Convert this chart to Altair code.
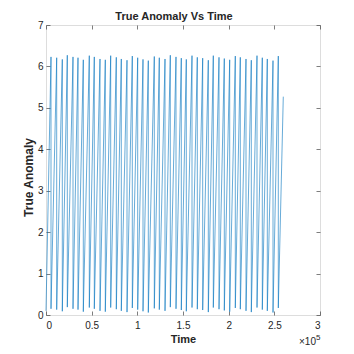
import altair as alt
import pandas as pd

# Peak (wrap-around) times of the true anomaly, in seconds
peak_t = [5475, 11715, 17847, 23321, 29562, 35037, 40840, 47409, 52884, 59125,
          64928, 70840, 76972, 82447, 88688, 94491, 100403, 106206, 112009, 118579,
          124053, 130294, 136097, 142337, 148140, 153615, 159855, 165659, 171571, 177702,
          183177, 189418, 195221, 201133, 207265, 212739, 218980, 224783, 231024, 236827,
          242301, 248542, 254345]
# Highest value just before each wrap
peak_v = [6.23, 6.21, 6.17, 6.27, 6.23, 6.21, 6.16, 6.26, 6.23, 6.18,
          6.16, 6.26, 6.22, 6.18, 6.15, 6.25, 6.21, 6.17, 6.14, 6.24,
          6.21, 6.18, 6.27, 6.23, 6.20, 6.17, 6.26, 6.22, 6.20, 6.15,
          6.26, 6.22, 6.19, 6.16, 6.25, 6.22, 6.18, 6.15, 6.26, 6.21,
          6.18, 6.14, 6.25]
# Lowest value just after each wrap
trough_v = [0.15, 0.13, 0.09, 0.19, 0.15, 0.13, 0.08, 0.18, 0.15, 0.10,
            0.08, 0.18, 0.14, 0.10, 0.07, 0.17, 0.13, 0.09, 0.06, 0.16,
            0.13, 0.10, 0.19, 0.15, 0.12, 0.09, 0.18, 0.14, 0.12, 0.07,
            0.18, 0.14, 0.11, 0.08, 0.17, 0.14, 0.10, 0.07, 0.18, 0.13,
            0.10, 0.06, 0.17]
start_t, start_v = 0, 0.10
end_t, end_v = 259800, 5.27

x_ticks = [0, 50000, 100000, 150000, 200000, 250000, 300000]
y_ticks = [0, 1, 2, 3, 4, 5, 6, 7]

rows = [{"t": start_t, "v": start_v, "o": 0}]
o = 1
for t, p, tr in zip(peak_t, peak_v, trough_v):
    rows.append({"t": t, "v": p, "o": o}); o += 1
    rows.append({"t": t, "v": tr, "o": o}); o += 1
rows.append({"t": end_t, "v": end_v, "o": o})
df = pd.DataFrame(rows)

FONT = "Liberation Sans Narrow, Liberation Sans, Arial, sans-serif"
TXT = "#262626"
xs = alt.Scale(domain=[0, 300000], nice=False, zero=False)
ys = alt.Scale(domain=[0, 7], nice=False, zero=False)

common_axis = dict(tickSize=4, tickColor=TXT, tickWidth=0.6, domain=False, grid=False,
                   labelFont=FONT, labelFontSize=10, labelColor=TXT,
                   titleFont=FONT, titleFontWeight="bold", titleColor=TXT)

line = alt.Chart(df).mark_line(color="#0072BD", strokeWidth=0.6).encode(
    x=alt.X("t:Q", scale=xs,
            axis=alt.Axis(orient="bottom", values=x_ticks, offset=-4, labelPadding=5,
                          labelExpr="datum.value / 100000", title="Time", titlePadding=3,
                          titleFontSize=11, **common_axis)),
    y=alt.Y("v:Q", scale=ys,
            axis=alt.Axis(orient="left", values=y_ticks, offset=-4, labelPadding=3,
                          title="True Anomaly", titleX=-15, titleY=152, titleAlign="center",
                          titleBaseline="bottom", titleFontSize=12, **common_axis)),
    order="o:Q",
)

frame = alt.Chart(df).mark_line(strokeOpacity=0).encode(
    x=alt.X("t:Q", scale=xs,
            axis=alt.Axis(orient="top", values=x_ticks, offset=-4, labels=False, title=None,
                          **common_axis)),
    y=alt.Y("v:Q", scale=ys,
            axis=alt.Axis(orient="right", values=y_ticks, offset=-4, labels=False, title=None,
                          **common_axis)),
    order="o:Q",
)

title = alt.Chart(pd.DataFrame({"s": ["True Anomaly Vs Time"]})).mark_text(
    font=FONT, fontSize=11, fontWeight="bold", color=TXT, align="center", baseline="alphabetic"
).encode(x=alt.value(128), y=alt.value(-5), text="s:N")

exp_base = alt.Chart(pd.DataFrame({"s": ["×10"]})).mark_text(
    font=FONT, fontSize=10, color=TXT, align="left", baseline="alphabetic"
).encode(x=alt.value(253), y=alt.value(320), text="s:N")
exp_sup = alt.Chart(pd.DataFrame({"s": ["5"]})).mark_text(
    font=FONT, fontSize=8, color=TXT, align="left", baseline="alphabetic"
).encode(x=alt.value(270), y=alt.value(315), text="s:N")

chart = alt.layer(line, frame, title, exp_base, exp_sup).resolve_axis(
    x="independent", y="independent"
).properties(
    width=274, height=290,
    autosize=alt.AutoSizeParams(type="none"),
    padding={"left": 38, "top": 17, "right": 26, "bottom": 31},
).configure_view(stroke=TXT, strokeWidth=0.6).configure(background="white")

chart.save("out.html", embed_options={"renderer": "svg", "actions": False})
